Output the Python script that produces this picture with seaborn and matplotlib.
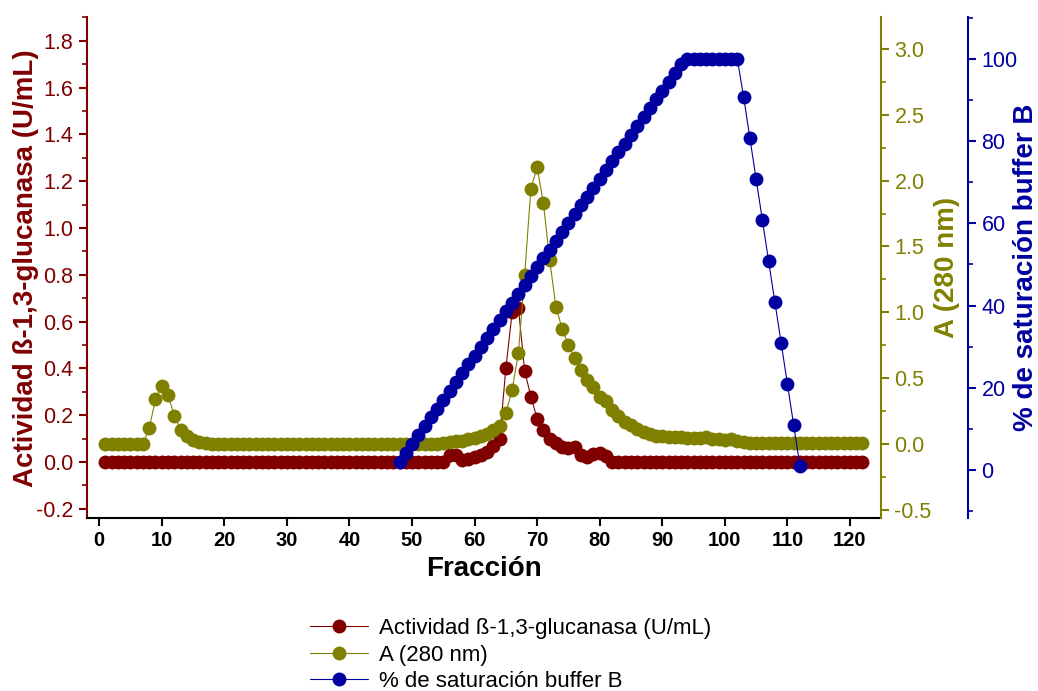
import numpy as np
import pandas as pd
import matplotlib
matplotlib.use('Agg')
import matplotlib.pyplot as plt
from matplotlib.ticker import MultipleLocator
import seaborn as sns

fraccion = list(range(1, 123))

actividad = [0.0] * 54 + [
    0.0, 0.03, 0.03, 0.01, 0.015, 0.02, 0.03, 0.045, 0.07, 0.10,   # 55-64
    0.40, 0.64, 0.66, 0.39, 0.28, 0.185, 0.135, 0.10, 0.08, 0.065, # 65-74
    0.06, 0.065, 0.03, 0.02, 0.035, 0.04, 0.025, 0.0,              # 75-82
] + [0.0] * 40

absorbancia = [0.0] * 7 + [
    0.12, 0.34, 0.44, 0.375, 0.215, 0.11, 0.06, 0.03, 0.015, 0.005,  # 8-17
] + [0.0] * 37 + [
    0.01, 0.015, 0.02, 0.025, 0.035, 0.045, 0.06, 0.08, 0.11, 0.14,  # 55-64
    0.236, 0.41, 0.69, 1.28, 1.94, 2.10, 1.83, 1.40, 1.04, 0.875,    # 65-74
    0.755, 0.65, 0.56, 0.49, 0.43, 0.36, 0.33, 0.26, 0.21, 0.17,     # 75-84
    0.145, 0.115, 0.09, 0.075, 0.065, 0.06, 0.055, 0.05, 0.05, 0.045, # 85-94
    0.045, 0.045, 0.05, 0.04, 0.035, 0.03, 0.035, 0.02, 0.015,        # 95-103
] + [0.01] * 19

fraccion_b = list(range(48, 113))
buffer_b = [
    2.0, 4.2, 6.3, 8.5, 10.6, 12.8, 14.9, 17.1, 19.2, 21.4,     # 48-57
    23.5, 25.7, 27.8, 30.0, 32.1, 34.3, 36.4, 38.6, 40.7, 42.9, # 58-67
    45.0, 47.2, 49.3, 51.5, 53.6, 55.8, 57.9, 60.1, 62.2, 64.4, # 68-77
    66.5, 68.7, 70.8, 73.0, 75.1, 77.3, 79.4, 81.6, 83.7, 85.9, # 78-87
    88.0, 90.2, 92.3, 94.5, 96.6, 98.8,                          # 88-93
    100, 100, 100, 100, 100, 100, 100, 100, 100,                 # 94-102
    90.8, 80.8, 70.8, 60.8, 50.8, 40.8, 30.9, 20.9, 10.9, 0.9,   # 103-112
]

df = pd.DataFrame({'fraccion': fraccion, 'actividad': actividad, 'A280': absorbancia})
df_b = pd.DataFrame({'fraccion': fraccion_b, 'buffer': buffer_b})

rojo = '#800000'
oliva = '#808000'
azul = '#0000A0'

sns.set_style('ticks')
plt.rcParams['font.family'] = ['Liberation Sans', 'DejaVu Sans']
plt.rcParams['axes.unicode_minus'] = False
plt.rcParams['text.color'] = 'black'
plt.rcParams['axes.labelcolor'] = 'black'

fig = plt.figure(figsize=(10.38, 6.91), dpi=100)
ax1 = fig.add_axes([0.0835, 0.25, 0.7655, 0.725])
ax2 = ax1.twinx()
ax3 = ax1.twinx()

estilo = dict(marker='o', markersize=10, linewidth=0.8, markeredgewidth=0)
sns.lineplot(data=df, x='fraccion', y='actividad', ax=ax1, color=rojo,
             markeredgecolor=rojo, label='Actividad ß-1,3-glucanasa (U/mL)', legend=False, **estilo)
sns.lineplot(data=df, x='fraccion', y='A280', ax=ax2, color=oliva,
             markeredgecolor=oliva, label='A (280 nm)', legend=False, **estilo)
sns.lineplot(data=df_b, x='fraccion', y='buffer', ax=ax3, color=azul,
             markeredgecolor=azul, label='% de saturación buffer B', legend=False, **estilo)

ax1.set_xlim(-2, 125)
ax1.set_ylim(-0.24, 1.9)
ax2.set_ylim(-0.563, 3.24)
ax3.set_ylim(-11.8, 110.2)

ax1.xaxis.set_major_locator(MultipleLocator(10))
ax1.yaxis.set_major_locator(MultipleLocator(0.2))
ax1.yaxis.set_minor_locator(MultipleLocator(0.1))
ax2.yaxis.set_major_locator(MultipleLocator(0.5))
ax2.yaxis.set_minor_locator(MultipleLocator(0.25))
ax3.yaxis.set_major_locator(MultipleLocator(20))
ax3.yaxis.set_minor_locator(MultipleLocator(10))

ax3.spines['right'].set_position(('outward', 62.6))

for ax in (ax1, ax2, ax3):
    ax.spines['top'].set_visible(False)
ax2.spines['left'].set_visible(False)
ax3.spines['left'].set_visible(False)
ax2.spines['bottom'].set_visible(False)
ax3.spines['bottom'].set_visible(False)
ax1.spines['right'].set_visible(False)

ax1.spines['left'].set_color(rojo)
ax1.spines['bottom'].set_color('black')
ax2.spines['right'].set_color(oliva)
ax3.spines['right'].set_color(azul)
for sp in (ax1.spines['left'], ax1.spines['bottom'], ax2.spines['right'], ax3.spines['right']):
    sp.set_linewidth(1.5)

ax1.tick_params(axis='x', which='major', direction='out', length=6, width=1.5, colors='black',
                labelsize=14.5)
ax1.tick_params(axis='y', which='major', direction='out', length=6, width=1.5, colors=rojo,
                labelsize=15.5)
ax1.tick_params(axis='y', which='minor', direction='out', length=3.5, width=1.2, colors=rojo)
ax2.tick_params(axis='y', which='major', direction='out', length=6, width=1.5, colors=oliva,
                labelsize=15.5)
ax2.tick_params(axis='y', which='minor', direction='out', length=3.5, width=1.2, colors=oliva)
ax3.tick_params(axis='y', which='major', direction='out', length=6, width=1.5, colors=azul,
                labelsize=15.5)
ax3.tick_params(axis='y', which='minor', direction='out', length=3.5, width=1.2, colors=azul)
for lbl in ax1.get_xticklabels():
    lbl.set_fontweight('bold')

ax1.set_xlabel('Fracción', fontsize=20, fontweight='bold', color='black', labelpad=4)
ax1.set_ylabel('Actividad ß-1,3-glucanasa (U/mL)', fontsize=20, fontweight='bold', color=rojo,
               labelpad=-2)
ax2.set_ylabel('A (280 nm)', fontsize=20, fontweight='bold', color=oliva, labelpad=2)
ax3.set_ylabel('% de saturación buffer B', fontsize=20, fontweight='bold', color=azul, labelpad=-3)

handles = ax1.get_lines() + ax2.get_lines() + ax3.get_lines()
labels = [h.get_label() for h in handles]
leg = fig.legend(handles, labels, loc='center', bbox_to_anchor=(0.492, 0.052), frameon=False,
                 fontsize=16, handlelength=2.6, labelspacing=0.25, handletextpad=0.5)
for t in leg.get_texts():
    t.set_color('black')

fig.savefig('out.png', dpi=100)
